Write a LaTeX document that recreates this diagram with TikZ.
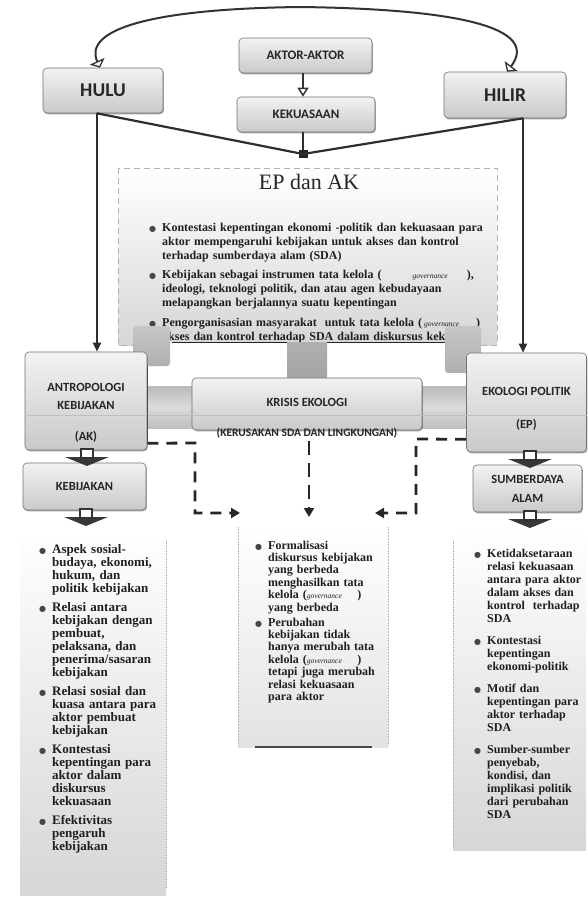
\documentclass[tikz,border=0pt]{standalone}
\usepackage{fontspec}
\setmainfont{Liberation Serif}
\newfontfamily\boxfont{Carlito}
\newfontfamily\symfont{DejaVu Sans}
\usetikzlibrary{arrows.meta,shadows,calc}
\newcommand{\bul}{\llap{{\symfont\fontsize{8}{8}\selectfont\color{black!72}●}\hspace{6pt}}}
\newcommand{\gov}{{\mdseries\itshape\fontsize{7.5}{8}\selectfont governance}}
\begin{document}
\begin{tikzpicture}[x=1pt,y=-1pt,
  gbox/.style={rounded corners=4pt, draw=black!55, line width=0.6pt, top color=gray!10, bottom color=gray!42,
    drop shadow={shadow xshift=0.9pt, shadow yshift=-1.3pt, fill=black!70}, inner sep=0pt},
  btext/.style={font=\boxfont\bfseries\fontsize{12.5}{13}\selectfont, text=black!85, inner sep=0pt},
  bigtext/.style={font=\boxfont\bfseries\fontsize{19.5}{20}\selectfont, text=black!85, inner sep=0pt},
  ltext/.style={anchor=base west, inner sep=0pt, align=left, text width=150pt, font=\bfseries\fontsize{13}{13}\selectfont, text=black!88},
  rtext/.style={ltext, text width=100pt, font=\bfseries\fontsize{12}{13}\selectfont},
  ctext/.style={ltext, font=\bfseries\fontsize{12}{12.4}\selectfont},
  etext/.style={ltext, text width=345pt, font=\bfseries\fontsize{12}{14}\selectfont},
  thickln/.style={line width=2.2pt, black!82},
  dashln/.style={line width=2.8pt, black!85, dash pattern=on 11pt off 8pt},
  tube/.style={top color=gray!55, bottom color=gray!50, middle color=gray!28},
  blockc/.style={top color=gray!45, bottom color=gray!62},
  barrow/.pic={
    \fill[black!78] (-22,7) -- (22,7) -- (0,16) -- cycle;
    \filldraw[fill=white, draw=black!80, line width=1.4pt] (-6,-1) rectangle (6,8);
  }
]
\useasboundingbox (0,0) rectangle (588,902);
\fill[white] (0,0) rectangle (588,902);

% ---------- background panels ----------
\shade[top color=white, bottom color=gray!32] (118,168) rectangle (497,345);
\draw[gray!60, line width=0.5pt, dash pattern=on 6pt off 4pt] (118,168) rectangle (497,345);
\shade[top color=white, bottom color=gray!32] (20,530) rectangle (166,895);
\draw[gray!60, line width=0.6pt, densely dotted] (166,540) -- (166,888);
\shade[top color=white, bottom color=gray!22] (238,527) rectangle (388,747);
\draw[gray!55, line width=0.5pt, densely dotted] (238,527) -- (238,745) (388,527) -- (388,745);
\draw[black!72, line width=1.3pt] (255,747) -- (372,747);
\shade[top color=white, bottom color=gray!32] (453,530) rectangle (586,850);
\draw[gray!60, line width=0.6pt, densely dotted] (453,540) -- (453,848);

% ---------- top boxes ----------
\node[gbox, minimum width=120pt, minimum height=45pt] (hulu) at (103,90.5) {};
\node[bigtext] (hulut) at (hulu.center) {HULU};
\node[gbox, minimum width=122pt, minimum height=46pt] (hilir) at (505,95) {};
\node[bigtext] (hilirt) at (hilir.center) {HILIR};
\node[gbox, minimum width=133pt, minimum height=35pt] (aktor) at (305.5,55.5) {};
\node[btext, font=\boxfont\bfseries\fontsize{13}{13}\selectfont] (aktort) at (aktor.center) {AKTOR-AKTOR};
\node[gbox, minimum width=138pt, minimum height=35pt] (kek) at (306,114.5) {};
\node[btext, font=\boxfont\bfseries\fontsize{13}{13}\selectfont] (kekt) at (kek.center) {KEKUASAAN};

\coordinate (lx) at (100,0);
\coordinate (rx) at (507,0);
\coordinate (vx) at (97,0);
\coordinate (wx) at (523,0);

% top arc
\draw[line width=2pt, black!80,
  {Triangle[open,width=16pt,length=7pt,line width=1.3pt]}-{Triangle[open,width=16pt,length=7pt,line width=1.3pt]}]
  (hulu.north -| lx) .. controls (84,32) and (140,9) .. (300,7) .. controls (460,9) and (540,28) .. (hilir.north -| rx);

% junction
\node[fill=black!85, minimum width=9pt, minimum height=8pt, inner sep=0pt] (jn) at (303,154) {};
\draw[line width=2.2pt, black!80, -{Triangle[open,width=11pt,length=9pt,line width=1.5pt]}] (aktor.south -| jn) -- (kek.north -| jn);
\draw[line width=2pt, black!82] (kek.south -| jn) -- (jn.north);
\draw[thickln] (hulu.south -| vx) -- (jn.center);
\draw[thickln] (hilir.south -| wx) -- (jn.center);

% EP dan AK
\node[inner sep=0pt, font=\fontsize{22}{22}\selectfont, text=black!85] (epak) at (309,182) {EP dan AK};
\node[etext] (e1) at (162,231) {\bul Kontestasi kepentingan ekonomi -politik dan kekuasaan para\\aktor mempengaruhi kebijakan untuk akses dan kontrol\\terhadap sumberdaya alam (SDA)};
\node[etext] (e2) at (162,278) {\bul Kebijakan sebagai instrumen tata kelola (\hspace{2.6em}\gov\hspace{1.6em}),\\ideologi, teknologi politik, dan atau agen kebudayaan\\melapangkan berjalannya suatu kepentingan};
\node[etext] (e3) at (162,326) {\bul Pengorganisasian masyarakat\ \ untuk tata kelola (\,\gov\hspace{1.4em})\\akses dan kontrol terhadap SDA dalam diskursus kekuasaan};

% white cut-out of the box bottom
\fill[white] (147,342) rectangle (466,386);
\draw[black!85, line width=1pt] (172,342) -- (445,342);

% gray connector blocks
\shade[blockc, rounded corners=3pt] (133,326) rectangle (170,366);
\shade[top color=gray!62, bottom color=gray!72] (287,342) rectangle (327,380);
\shade[blockc, rounded corners=3pt] (445,326) rectangle (481,373);

% tubes
\shade[tube] (147,386) rectangle (193,428);
\shade[tube] (421,386) rectangle (466,428);

% ---------- middle boxes ----------
\node[gbox, minimum width=122pt, minimum height=98pt] (antro) at (86,401) {};
\node[gbox, minimum width=230pt, minimum height=52pt] (krisis) at (307,404) {};
\node[gbox, minimum width=120pt, minimum height=99pt] (eko) at (526.5,402.5) {};
\draw[gray!50, line width=0.4pt] (antro.west |- 0,415) -- (eko.east |- 0,415);
\draw[black!70, line width=0.8pt] (147,366) -- (147,442);

\node[btext] (antro1) at (86,387) {ANTROPOLOGI};
\node[btext] (antro2) at (86,405) {KEBIJAKAN};
\node[btext] (antro3) at (86,437) {(AK)};
\node[btext] (kris1) at (307,402) {KRISIS EKOLOGI};
\node[btext, font=\boxfont\bfseries\fontsize{11.5}{12}\selectfont] (kris2) at (307,433) {(KERUSAKAN SDA DAN LINGKUNGAN)};
\node[btext] (eko1) at (526.5,391) {EKOLOGI POLITIK};
\node[btext] (eko2) at (526.5,425) {(EP)};

% arrows from HULU/HILIR
\draw[line width=2pt, black!82, -{Triangle[width=8pt,length=9pt]}] (hulu.south -| vx) -- (antro.north -| vx);
\draw[line width=2pt, black!82, -{Triangle[width=8pt,length=9pt]}] (hilir.south -| wx) -- (eko.north -| wx);

% ---------- lower boxes ----------
\node[gbox, minimum width=123pt, minimum height=47pt] (kebij) at (84.5,486.5) {};
\node[btext] (kebijt) at (kebij.center) {KEBIJAKAN};
\node[gbox, minimum width=109pt, minimum height=47pt] (sda) at (527.5,488.5) {};
\node[btext, align=center, font=\boxfont\bfseries\fontsize{12.5}{19}\selectfont] (sdat) at (sda.center) {SUMBERDAYA\\ALAM};

\pic at (87,450) {barrow};
\pic at (86,510) {barrow};
\pic at (530,452) {barrow};
\pic at (530,512) {barrow};

% dashed connectors
\coordinate (dlt) at (240,513);
\coordinate (drt) at (375,513);
\coordinate (dct) at (309,517);
\draw[dashln, -{Triangle[width=10pt,length=9pt]}] ($(antro.south east)+(0,-7)$) -- (195,443) -- (195,513) -- (dlt);
\draw[dashln, -{Triangle[width=10pt,length=9pt]}] ($(eko.south west)+(0,-13)$) -- (416,439) -- (416,513) -- (drt);
\draw[dashln, dash pattern=on 14pt off 8pt, -{Triangle[width=10pt,length=9pt]}] (309,441) -- (dct);

% ---------- lists ----------
\node[ltext] (l1) at (52,553) {\bul Aspek sosial-\\budaya, ekonomi,\\hukum, dan\\politik kebijakan};
\node[ltext] (l2) at (52,611) {\bul Relasi antara\\kebijakan dengan\\pembuat,\\pelaksana, dan\\penerima/sasaran\\kebijakan};
\node[ltext] (l3) at (52,695) {\bul Relasi sosial dan\\kuasa antara para\\aktor pembuat\\kebijakan};
\node[ltext] (l4) at (52,753) {\bul Kontestasi\\kepentingan para\\aktor dalam\\diskursus\\kekuasaan};
\node[ltext] (l5) at (52,824) {\bul Efektivitas\\pengaruh\\kebijakan};

\node[ctext] (c1) at (268,549) {\bul Formalisasi\\diskursus kebijakan\\yang berbeda\\menghasilkan tata\\kelola (\gov\hspace{1.3em})\\yang berbeda};
\node[ctext] (c2) at (268,626) {\bul Perubahan\\kebijakan tidak\\hanya merubah tata\\kelola (\gov\hspace{1.3em})\\tetapi juga merubah\\relasi kekuasaan\\para aktor};

\node[rtext] (r1) at (487,557) {\bul Ketidaksetaraan\\relasi kekuasaan\\antara para aktor\\dalam akses dan\\kontrol\ \ terhadap\\SDA};
\node[rtext] (r2) at (487,644) {\bul Kontestasi\\kepentingan\\ekonomi-politik};
\node[rtext] (r3) at (487,692) {\bul Motif dan\\kepentingan para\\aktor terhadap\\SDA};
\node[rtext] (r4) at (487,753) {\bul Sumber-sumber\\penyebab,\\kondisi, dan\\implikasi politik\\dari perubahan\\SDA};
\end{tikzpicture}
\end{document}
